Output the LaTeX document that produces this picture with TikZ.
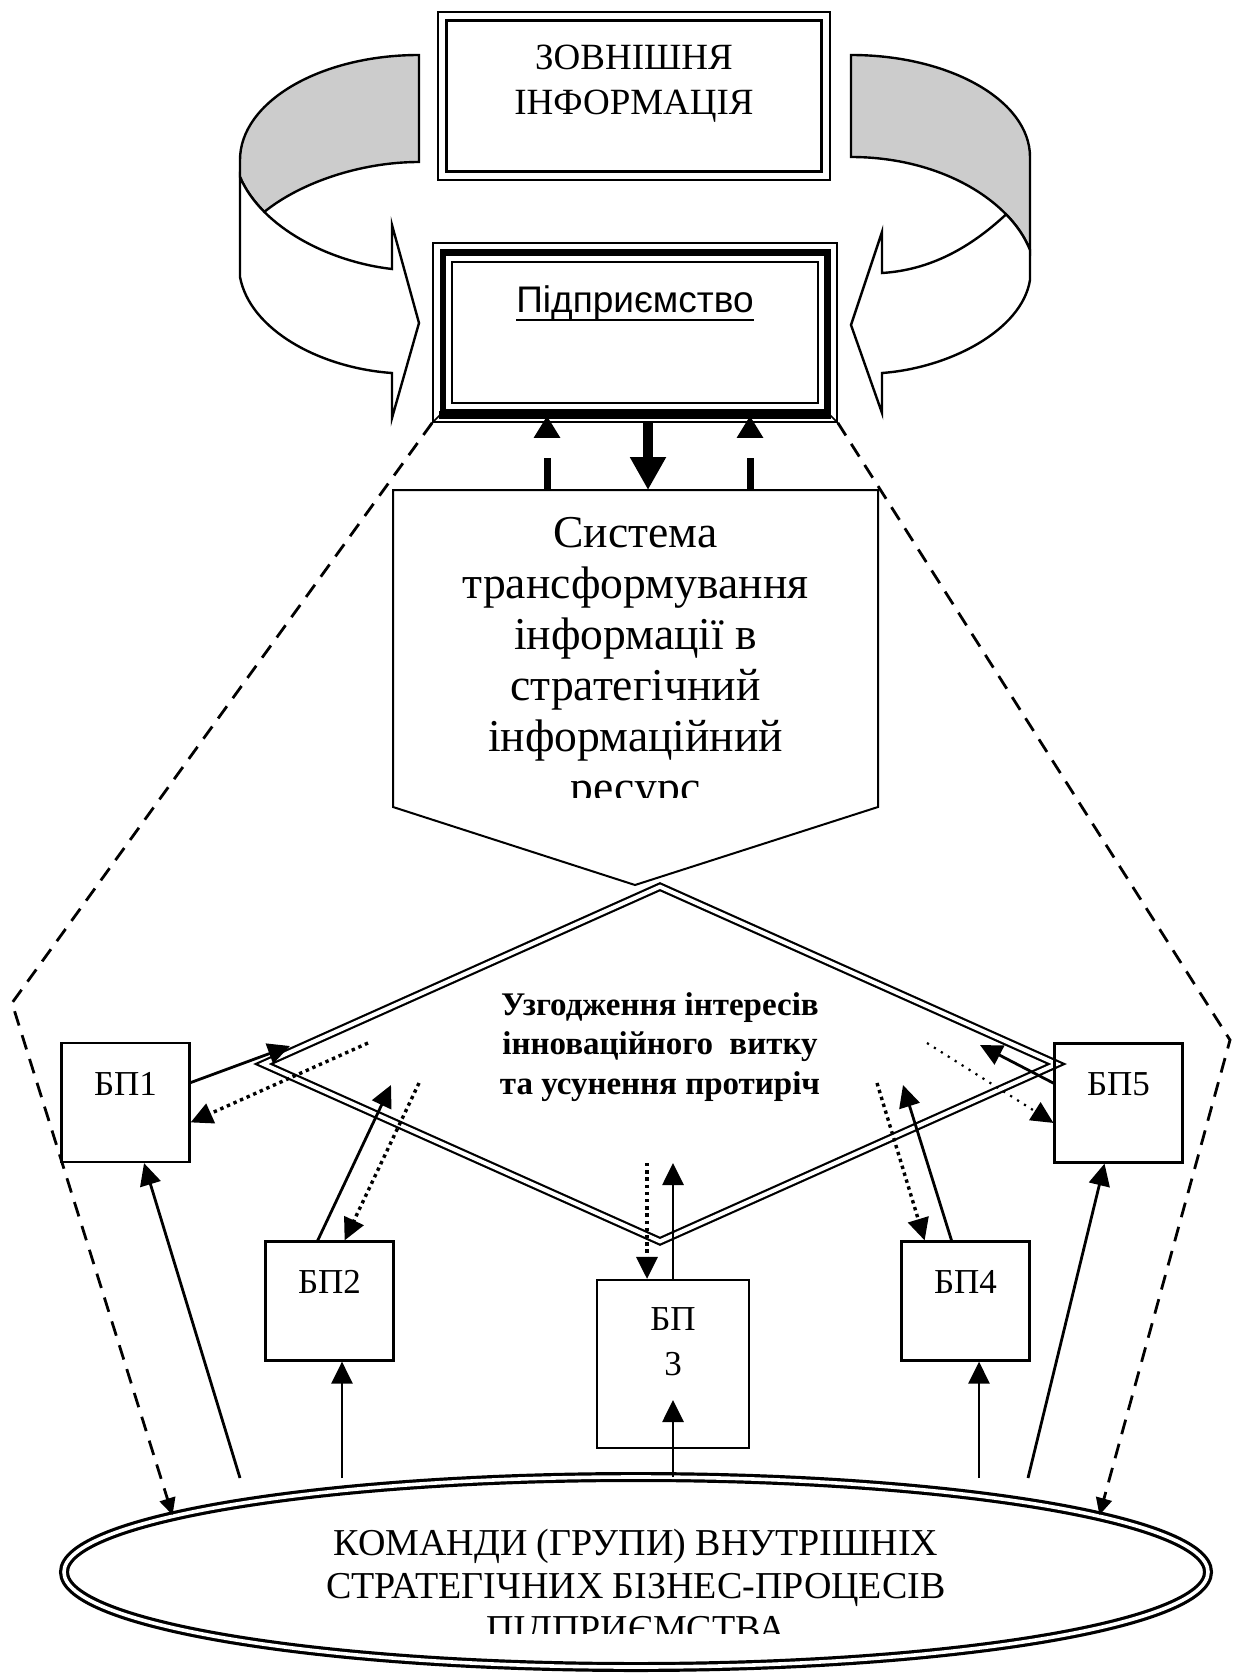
\documentclass[tikz,border=0pt]{standalone}
\usepackage{fontspec}
\setmainfont{Liberation Serif}
\newfontfamily\arialfont{Liberation Sans}
\usetikzlibrary{arrows.meta,calc,shapes.geometric}
\newcommand{\wordul}[1]{{\setbox0\hbox{#1}\rlap{\rule[-4.2pt]{\wd0}{1.2pt}}\box0}}
\newcommand{\boxlines}[1]{\begin{tabular}[t]{@{}c@{}}#1\end{tabular}}
\tikzset{%
	ribbon/.style     = {draw, line width=1.2pt, fill=white},
	ribbonback/.style = {ribbon, fill=gray!40},
	frame/.style      = {draw, rectangle, line width=0.8pt, inner sep=0pt},
	bpbox/.style      = {draw, rectangle, line width=1.1pt, inner sep=0pt, minimum width=64pt, minimum height=59.5pt, text height=12pt, text depth=19.5pt, font=\fontsize{17.5}{22.5}\selectfont},
	link/.style       = {line width=1.4pt, -{Triangle[length=11pt,width=10.5pt]}},
	backlink/.style   = {line width=1.7pt, dash pattern=on 1.7pt off 1.9pt, -{Triangle[length=11pt,width=10.5pt]}},
	bound/.style      = {line width=1.4pt, dash pattern=on 7.5pt off 5pt, -{Triangle[length=8.5pt,width=8pt]}},
	feedback/.style   = {line width=3.5pt, dash pattern=on 16pt off 12pt, -{Triangle[length=11pt,width=12.5pt]}},
	command/.style    = {line width=5pt, -{Triangle[length=16.5pt,width=17pt]}},
}

\begin{document}
\begin{tikzpicture}[x=0.5pt,y=-0.5pt]
	\useasboundingbox (0,0) rectangle (1235,1674);
	
	% curved ribbons
	\draw[ribbonback] (419,55) .. controls (320.1,55) and (240,102) .. (240,160) -- (240,177) .. controls (245.5,189.75) and (253.9,201.4) .. (264.3,211.9) .. controls (300,183) and (360,162) .. (419,162) -- cycle;
	\draw[ribbon] (240,177) .. controls (262,228) and (330,262) .. (392,269) -- (392,225) -- (419,323) -- (392,418) -- (392,373) .. controls (320,368) and (250,330) .. (240,277) -- cycle;
	\draw[ribbonback] (851,55) .. controls (949.9,55) and (1030,100.7) .. (1030,157) -- (1030,250) .. controls (1025,237.5) and (1016.9,225.4) .. (1006.1,214.35) .. controls (973.8,181.2) and (917.75,157) .. (851,157) -- cycle;
	\draw[ribbon] (1006.1,214.35) .. controls (970,248) and (930,270) .. (882,273) -- (882,232) -- (851,325) -- (882,413) -- (882,373) .. controls (950,368) and (1022,330) .. (1030,280) -- (1030,250) .. controls (1025,237.5) and (1016.9,225.4) .. (1006.1,214.35) -- cycle;
	
	% external information and enterprise
	\node[frame, minimum width=196pt, minimum height=84pt, text height=12pt, text depth=38pt, font=\fontsize{18.5}{22.5}\selectfont] (extinfo) at (634,96) {\boxlines{ЗОВНІШНЯ\\ІНФОРМАЦІЯ}};
	\draw[line width=1.75pt] ($(extinfo.south west)+(9.5,-9.5)$) rectangle ($(extinfo.north east)+(-9.5,9.5)$);
	
	\node[frame, minimum width=202pt, minimum height=89.5pt, text height=13.5pt, text depth=33pt, font=\arialfont\fontsize{18.5}{22}\selectfont] (ent) at (635,332.5) {\wordul{Підприємство}};
	\draw[line width=3.2pt] ($(ent.south west)+(10.5,-10.5)$) rectangle ($(ent.north east)+(-10.5,10.5)$);
	\fill ($(ent.south west)+(7,-4)$) rectangle ($(ent.south east)+(-7,-12)$);
	\draw[line width=0.8pt] ($(ent.south west)+(20,-20)$) rectangle ($(ent.north east)+(-20,20)$);
	\draw[line width=0.8pt] (ent.south west) -- +(10,-10) (ent.south east) -- +(-10,-10);
	
	% transformation system
	\coordinate (sysnw) at (393,490);
	\coordinate (sysne) at (878,490);
	\coordinate (sysse) at (878,807);
	\coordinate (syssw) at (393,807);
	\coordinate (systip) at (635,885);
	\coordinate (sysclip) at (878,797);
	\draw[line width=1pt] (syssw) -- (sysnw) -- (sysne) -- (sysse) -- (systip) -- cycle;
	\begin{scope}
		\clip (sysnw) rectangle (sysclip);
		\node[anchor=base, inner sep=0pt, font=\fontsize{22.8}{25.5}\selectfont] (sysinfo) at (635.5,547) {\boxlines{Система\\трансформування\\інформації в\\стратегічний\\інформаційний\\ресурс}};
	\end{scope}
	
	\coordinate (up1) at (547,490);
	\coordinate (up2) at (750,490);
	\coordinate (dn) at (648,490);
	\draw[feedback] (up1) -- ($(up1 |- ent.south)+(0,-7)$);
	\draw[feedback] (up2) -- ($(up2 |- ent.south)+(0,-7)$);
	\draw[command] (ent.south -| dn) -- (dn);
	
	% coordination of interests
	\node[diamond, draw, double, line width=1.1pt, double distance=2pt, minimum width=397pt, minimum height=177.75pt, aspect=2.24, inner sep=0pt, text height=12pt, text depth=60.75pt, font=\bfseries\fontsize{16.5}{19.75}\selectfont] (agree) at (660,1064) {\boxlines{Узгодження інтересів\\інноваційного\ \ витку\\та усунення протиріч}};
	
	% business processes
	\node[bpbox] (bp1) at (125.5,1102.5) {БП1};
	\node[bpbox] (bp2) at (329.5,1301) {БП2};
	\node[bpbox, minimum width=76pt, minimum height=84pt, text depth=46pt] (bp3) at (673,1364) {\boxlines{БП\\3}};
	\node[bpbox] (bp4) at (965.5,1301) {БП4};
	\node[bpbox] (bp5) at (1118.5,1103) {БП5};
	
	% teams
	\node[ellipse, draw, double, line width=1.6pt, double distance=1.8pt, minimum width=572pt, minimum height=95pt, inner sep=0pt] (teams) at (636,1572) {};
	\coordinate (teamsclip) at (0,1633);
	\begin{scope}
		\clip (teams.west |- teams.north) rectangle (teams.east |- teamsclip);
		\node[anchor=base, inner sep=0pt, font=\fontsize{19}{21.5}\selectfont] (teamslabel) at (636,1555) {\boxlines{КОМАНДИ (ГРУПИ) ВНУТРІШНІХ\\СТРАТЕГІЧНИХ БІЗНЕС-ПРОЦЕСІВ\\ПІДПРИЄМСТВА}};
	\end{scope}
	
	% links with the diamond
	\coordinate (a1) at (290,1046);
	\coordinate (d1) at (368,1043);
	\coordinate (a2) at (391,1085);
	\coordinate (d2) at (419,1083);
	\coordinate (d3) at (647,1163);
	\coordinate (a3) at (673,1163);
	\coordinate (d4) at (877,1083);
	\coordinate (a4) at (903,1085);
	\coordinate (a5) at (980,1045);
	\coordinate (d5) at (927,1043);
	
	\draw[link] (bp1.17) -- (a1);
	\draw[backlink] (d1) -- (bp1.-17);
	\draw[link] (bp2.101) -- (a2);
	\draw[backlink] (d2) -- (bp2.76);
	\draw[backlink] (d3) -- (d3 |- bp3.north);
	\draw[link] (bp3.north) -- (a3);
	\draw[backlink] (d4) -- (bp4.124);
	\draw[link] (bp4.103) -- (a4);
	\draw[link] (bp5.163) -- (a5);
	\draw[backlink, line width=1.1pt, dash pattern=on 1.1pt off 3pt] (d5) -- (bp5.197);
	
	% links from the teams
	\coordinate (e1) at (240,1478);
	\coordinate (e2) at (342,1478);
	\coordinate (e3) at (673,1477);
	\coordinate (e4) at (979,1478);
	\coordinate (e5) at (1028,1478);
	\coordinate (t3) at (673,1400);
	
	\draw[link] (e1) -- (bp1.-73);
	\draw[link] (e2) -- (e2 |- bp2.south);
	\draw[link] (e3) -- (t3);
	\draw[link] (e4) -- (e4 |- bp4.south);
	\draw[link] (e5) -- (bp5.-103);
	
	% bounds of the enterprise
	\coordinate (lc) at (12,1003);
	\coordinate (rc) at (1230,1040);
	\draw[bound] (ent.south west) -- (lc) -- (teams.173);
	\draw[bound] (ent.south east) -- (rc) -- (teams.7);
\end{tikzpicture}
\end{document}
